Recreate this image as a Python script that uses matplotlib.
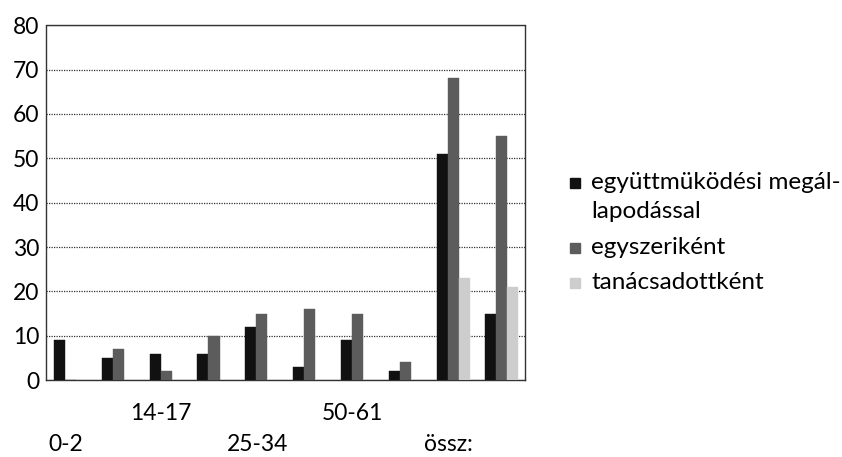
import matplotlib
matplotlib.use("Agg")
import matplotlib.pyplot as plt
from matplotlib.patches import Rectangle
import numpy as np

plt.rcParams['font.family'] = ['Lato', 'DejaVu Sans']

categories = ["0-2", "", "14-17", "", "25-34", "", "50-61", "", "össz:", ""]
series_names = ["együttmüködési megál-\nlapodással", "egyszeriként", "tanácsadottként"]
s1 = [9, 5, 6, 6, 12, 3, 9, 2, 51, 15]
s2 = [0, 7, 2, 10, 15, 16, 15, 4, 68, 55]
s3 = [0, 0, 0, 0, 0, 0, 0, 0, 23, 21]
colors = ["#111111", "#5c5c5c", "#cdcdcd"]

W, H = 842, 457
fig = plt.figure(figsize=(W / 100, H / 100), dpi=100)
ax = fig.add_axes([0.055, 0.168, 0.569, 0.777])

x = np.arange(len(categories))
w = 0.23
for i, (vals, c) in enumerate(zip([s1, s2, s3], colors)):
    ax.bar(x + (i - 1) * w, vals, width=w, color=c, edgecolor=c, linewidth=0.3, zorder=3)

ax.set_xlim(-0.5, len(categories) - 0.5)
ax.set_ylim(0, 80)
ax.set_yticks(range(0, 81, 10))
ax.yaxis.grid(True, linestyle=(0, (1, 1)), color="#333333", linewidth=0.9, zorder=0)
for sp in ax.spines.values():
    sp.set_linestyle((0, (1, 1)))
    sp.set_color("#333333")
    sp.set_linewidth(1.0)
ax.tick_params(axis='y', length=0, labelsize=16.5, pad=5)
ax.tick_params(axis='x', length=0)
ax.set_xticks([])

for i, lab in enumerate(categories):
    if not lab:
        continue
    yoff = -0.093 if i in (2, 6) else -0.18
    ax.text(i - 0.1, yoff, lab, transform=ax.get_xaxis_transform(), ha='center', va='center', fontsize=16.5)

# manual legend (handle aligned with first line of each label)
row_y = [183, 248, 283]
hx, hs, tx = 570, 10, 591
for name, c, ry in zip(series_names, colors, row_y):
    fig.patches.append(Rectangle((hx / W, 1 - (ry + hs / 2) / H), hs / W, hs / H,
                                 transform=fig.transFigure, facecolor=c, edgecolor=c))
    fig.text(tx / W, 1 - (ry - 11) / H, name, ha='left', va='top', fontsize=17.5,
             linespacing=1.45)

fig.savefig("out.png", dpi=100)
